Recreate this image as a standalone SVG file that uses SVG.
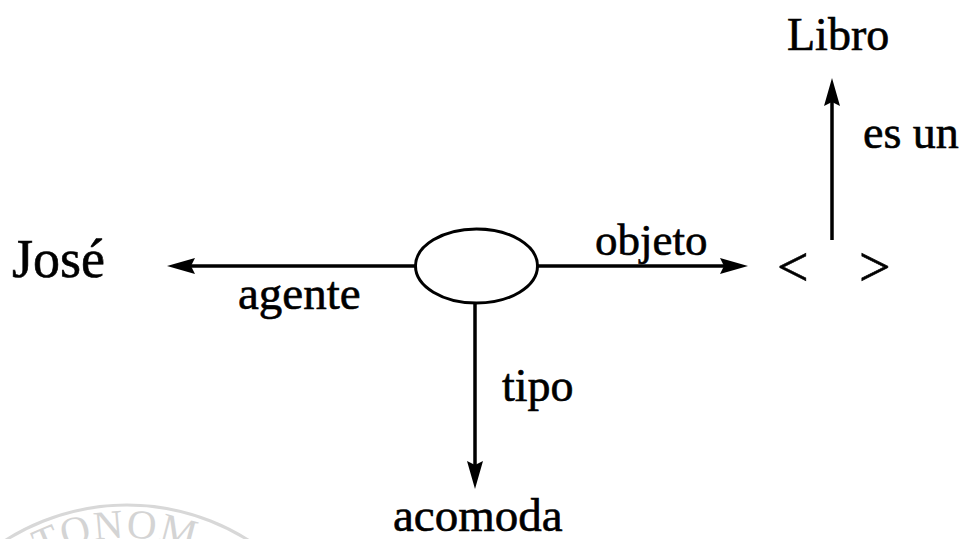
<svg xmlns="http://www.w3.org/2000/svg" width="967" height="539" viewBox="0 0 967 539">
<style>
  .lbl { font-family: "Liberation Serif", "Times New Roman", serif; fill: #000; stroke: #000; stroke-width: 0.6; }
  .edge { stroke: #000; stroke-width: 3.5; fill: none; }
  .wm { font-family: "Liberation Serif", serif; fill: #d4d4d4; font-size: 41px; letter-spacing: 2px; }
</style>
<defs>
  <marker id="ah" viewBox="0 0 28 16" refX="18" refY="8" markerWidth="28" markerHeight="16" markerUnits="userSpaceOnUse" orient="auto">
    <path d="M0,0 L28,8 L0,16 L4,8 Z" fill="#000"/>
  </marker>
  <path id="wmArc" d="M -67,732 A 194 194 0 0 1 321,732"/>
</defs>
<g id="watermark">
  <path d="M -100,732 A 227 227 0 0 1 354,732" fill="none" stroke="#d8d8d8" stroke-width="3"/>
  <text class="wm"><textPath href="#wmArc" startOffset="294" text-anchor="middle">TONOM</textPath></text>
</g>
<g id="connectors">
  <line class="edge" x1="415" y1="266" x2="177" y2="266" marker-end="url(#ah)"/>
  <line class="edge" x1="538" y1="266" x2="738" y2="266" marker-end="url(#ah)"/>
  <line class="edge" x1="832" y1="240" x2="832" y2="88" marker-end="url(#ah)"/>
  <line class="edge" x1="475" y1="303" x2="475" y2="479" marker-end="url(#ah)"/>
  <text class="lbl" x="238" y="309" font-size="47">agente</text>
  <text class="lbl" x="595" y="255" font-size="45">objeto</text>
  <text class="lbl" x="863" y="148" font-size="46">es un</text>
  <text class="lbl" x="502" y="401" font-size="46">tipo</text>
</g>
<g id="node-event">
  <ellipse cx="476.5" cy="266" rx="61" ry="37" fill="#fff" stroke="#000" stroke-width="3"/>
</g>
<g id="node-jose">
  <text class="lbl" x="12" y="277" font-size="54">José</text>
</g>
<g id="node-libro">
  <text class="lbl" x="787" y="50" font-size="46">Libro</text>
</g>
<g id="node-acomoda">
  <text class="lbl" x="393" y="531" font-size="47">acomoda</text>
</g>
<g id="node-placeholder">
  <text class="lbl" x="777" y="286" font-size="56">&lt;</text>
  <text class="lbl" x="859" y="286" font-size="56">&gt;</text>
</g>
</svg>
